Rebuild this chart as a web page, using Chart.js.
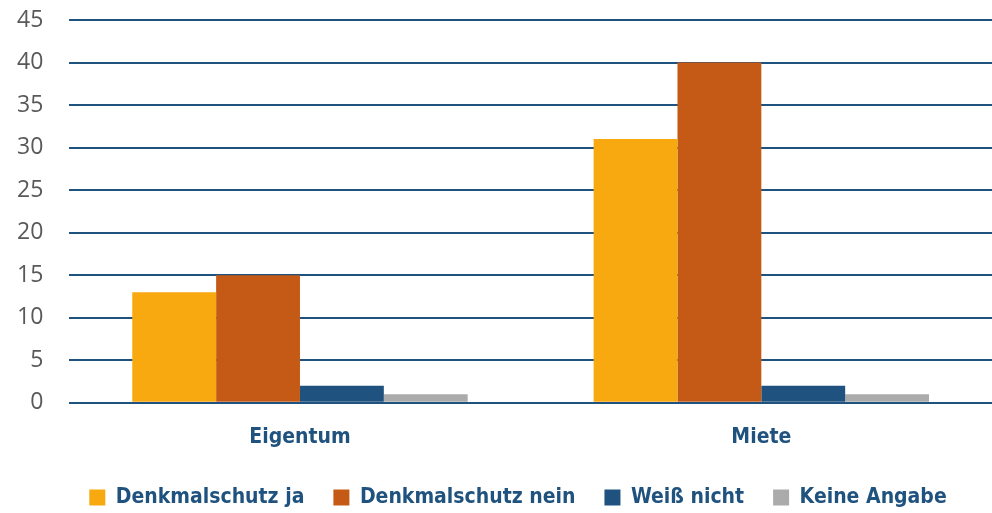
<!DOCTYPE html>
<html>
<head>
<meta charset="utf-8">
<script src="https://cdn.jsdelivr.net/npm/chart.js@4"></script>
<style>
  html, body { margin: 0; padding: 0; background: #fff; }
  #wrap { width: 992px; height: 513px; }
</style>
</head>
<body>
<div id="wrap"><canvas id="chart" width="992" height="513"></canvas></div>
<script>
const categories = ['Eigentum', 'Miete'];
const seriesNames = ['Denkmalschutz ja', 'Denkmalschutz nein', 'Weiß nicht', 'Keine Angabe'];
const denkmalJa = [13, 31];
const denkmalNein = [15, 40];
const weissNicht = [2, 2];
const keineAngabe = [1, 1];
const yTicks = [0, 5, 10, 15, 20, 25, 30, 35, 40, 45];

const colors = ['#F7A90F', '#C55A17', '#1F527E', '#ABABAB'];
const navy = '#1F527E';
const condensed = '"Liberation Sans Narrow", "DejaVu Sans Condensed", sans-serif';

const values = [denkmalJa, denkmalNein, weissNicht, keineAngabe];

// nudge the legend right and up a bit, like in the original
const shiftLegend = {
    id: 'shiftLegend',
    afterLayout(chart) {
        const lg = chart.legend;
        if (lg) {
            lg.left += 22; lg.right += 22;
            lg.top -= 6; lg.bottom -= 6;
        }
    }
};

const ctx = document.getElementById('chart').getContext('2d');
const myChart = new Chart(ctx, {
    type: 'bar',
    data: {
        labels: categories,
        datasets: seriesNames.map((name, i) => ({
            label: name,
            data: values[i],
            backgroundColor: colors[i],
            borderWidth: 0,
            barPercentage: 1,
            categoryPercentage: 0.727
        }))
    },
    options: {
        responsive: false,
        animation: false,
        layout: {
            padding: { top: 20, right: -9, left: -9, bottom: -11 }
        },
        plugins: {
            tooltip: { enabled: false },
            legend: {
                position: 'bottom',
                labels: {
                    boxWidth: 16,
                    boxHeight: 16,
                    padding: 29,
                    color: navy,
                    font: { family: condensed, size: 21, weight: 'bold' }
                }
            }
        },
        scales: {
            x: {
                grid: { display: false },
                border: { display: false },
                ticks: {
                    color: navy,
                    padding: 14,
                    font: { family: condensed, size: 21, weight: 'bold' }
                }
            },
            y: {
                min: 0,
                max: 45,
                afterBuildTicks: axis => { axis.ticks = yTicks.map(v => ({ value: v })); },
                afterFit: axis => { axis.paddingTop = 0; },
                border: { display: false },
                grid: {
                    color: navy,
                    lineWidth: 2,
                    drawTicks: false
                },
                ticks: {
                    color: '#595959',
                    padding: 26,
                    font: { family: '"Open Sans", sans-serif', size: 23 }
                }
            }
        }
    },
    plugins: [shiftLegend]
});
</script>
</body>
</html>
